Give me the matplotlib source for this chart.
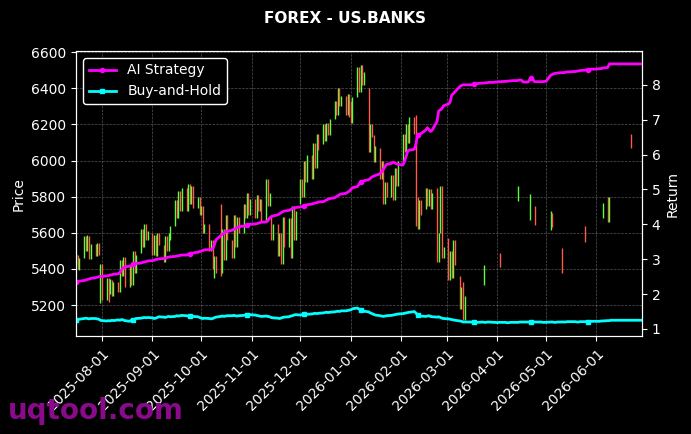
import numpy as np
import pandas as pd
import matplotlib
matplotlib.use("Agg")
import matplotlib.pyplot as plt
import matplotlib.dates as mdates

# ---------------- data ----------------
start_date = "2025-07-16"
end_date = "2026-06-29"

# dense candles: (open, close) per business day, Jul 16 2025 .. Mar 12 2026
candle_open = [
    5420, 5480, 5395,
    5460, 5580, 5500, 5585, 5455,
    5540, 5470, 5545, 5210, 5430,
    5230, 5350, 5260, 5340, 5250,
    5330, 5270, 5450, 5360, 5465,
    5300, 5420, 5310, 5500, 5380,
    5490, 5620, 5520, 5650, 5560,
    5600, 5480, 5590, 5470, 5600,
    5530, 5440, 5580, 5500, 5560,
    5640, 5780, 5680, 5830, 5720,
    5850, 5720, 5870, 5760, 5860,
    5740, 5800, 5700, 5750, 5600,
    5650, 5500, 5560, 5350, 5470,
    5760, 5380, 5620, 5450, 5700,
    5560, 5460, 5700, 5520, 5690,
    5600, 5760, 5680, 5820, 5700,
    5790, 5680, 5810, 5720, 5790,
    5660, 5900, 5750, 5700, 5560,
    5650, 5470, 5600, 5430, 5690,
    5520, 5680, 5460, 5750, 5560,
    5760, 5900, 5800, 6000, 5880,
    6030, 5900, 6100, 5960, 6150,
    6090, 6200, 6110, 6210, 6140,
    6230, 6330, 6250, 6400, 6300,
    6360, 6250, 6370, 6330, 6210,
    6350, 6520, 6380, 6530, 6420,
    6400, 6050, 6200, 6140, 5990,
    6070, 5900, 6000, 5760, 5880,
    5800, 5920, 5780, 5960, 5860,
    6000, 6150, 6050, 6200, 6100,
    6240, 6250, 5800, 5620, 5780,
    5730, 5850, 5750, 5840, 5730,
    5850, 5440, 5600, 5860, 5460,
    5570, 5340, 5500, 5350, 5560,
    5360, 5180, 5330, 5120,
]
candle_close = [
    5485, 5400, 5460,
    5580, 5500, 5590, 5455, 5540,
    5470, 5545, 5480, 5430, 5230,
    5350, 5215, 5345, 5250, 5330,
    5270, 5450, 5360, 5465, 5300,
    5420, 5310, 5500, 5380, 5480,
    5620, 5520, 5650, 5560, 5610,
    5480, 5590, 5470, 5600, 5530,
    5440, 5580, 5500, 5600, 5640,
    5780, 5680, 5830, 5720, 5850,
    5720, 5870, 5760, 5860, 5740,
    5800, 5700, 5750, 5600, 5650,
    5500, 5560, 5400, 5470, 5380,
    5360, 5620, 5450, 5700, 5560,
    5460, 5700, 5520, 5690, 5600,
    5760, 5680, 5820, 5700, 5790,
    5680, 5810, 5720, 5790, 5660,
    5900, 5750, 5820, 5560, 5650,
    5470, 5600, 5430, 5690, 5520,
    5680, 5460, 5750, 5560, 5720,
    5900, 5800, 6000, 5880, 6030,
    5900, 6100, 5960, 6150, 6060,
    6200, 6110, 6210, 6140, 6230,
    6330, 6250, 6400, 6300, 6360,
    6250, 6370, 6240, 6210, 6350,
    6520, 6380, 6530, 6420, 6490,
    6050, 6200, 6130, 5990, 6080,
    5900, 6000, 5760, 5880, 5800,
    5920, 5780, 5960, 5860, 6000,
    6150, 6050, 6200, 6100, 6240,
    6150, 5640, 5620, 5780, 5700,
    5850, 5750, 5840, 5730, 5820,
    5440, 5600, 5860, 5460, 5520,
    5340, 5500, 5350, 5560, 5420,
    5180, 5300, 5120, 5250,
]

# sparse candles later in the period
sparse_dates = ["2026-03-24", "2026-04-03", "2026-04-14", "2026-04-21", "2026-04-24",
                "2026-05-04", "2026-05-05", "2026-05-11", "2026-05-25",
                "2026-06-05", "2026-06-08", "2026-06-09", "2026-06-22"]
sparse_open = [5310, 5490, 5775, 5670, 5750, 5615, 5710, 5515, 5637, 5680, 5800, 5660, 6150]
sparse_close = [5420, 5410, 5858, 5815, 5645, 5720, 5630, 5380, 5550, 5765, 5660, 5800, 6070]

ai_strategy = [
    2.35, 2.36, 2.37,
    2.39, 2.40, 2.42, 2.43, 2.45,
    2.47, 2.48, 2.50, 2.50, 2.51,
    2.52, 2.53, 2.55, 2.55, 2.57,
    2.58, 2.62, 2.70, 2.75, 2.78,
    2.80, 2.82, 2.85, 2.86, 2.88,
    2.89, 2.91, 2.92, 2.93, 2.95,
    2.96, 2.97, 2.99, 3.00, 3.01,
    3.02, 3.03, 3.05, 3.06, 3.07,
    3.08, 3.09, 3.10, 3.11, 3.12,
    3.12, 3.14, 3.15, 3.17, 3.18,
    3.20, 3.22, 3.23, 3.25, 3.27,
    3.27, 3.28, 3.30, 3.40, 3.55,
    3.68, 3.72, 3.75, 3.78, 3.80,
    3.83, 3.86, 3.88, 3.90, 3.93,
    3.95, 3.96, 3.98, 3.99, 4.00,
    4.01, 4.02, 4.03, 4.05, 4.06,
    4.07, 4.10, 4.18, 4.22, 4.24,
    4.27, 4.30, 4.33, 4.36, 4.38,
    4.40, 4.42, 4.45, 4.47, 4.48,
    4.50, 4.51, 4.53, 4.55, 4.56,
    4.58, 4.60, 4.61, 4.62, 4.64,
    4.65, 4.67, 4.70, 4.72, 4.74,
    4.76, 4.79, 4.82, 4.85, 4.87,
    4.89, 4.92, 4.95, 5.00, 5.05,
    5.08, 5.15, 5.20, 5.22, 5.25,
    5.28, 5.32, 5.36, 5.38, 5.40,
    5.45, 5.50, 5.58, 5.65, 5.72,
    5.75, 5.78, 5.76, 5.74, 5.72,
    5.70, 5.80, 5.95, 6.10, 6.13,
    6.15, 6.30, 6.55, 6.57, 6.60,
    6.70, 6.77, 6.72, 6.66, 6.70,
    6.95, 7.25, 7.28, 7.32, 7.40,
    7.45, 7.50, 7.70, 7.75, 7.80,
    7.95, 7.98, 8.00, 8.00, 8.00,
    8.00, 8.01, 8.02, 8.03, 8.04,
    8.05, 8.05, 8.06, 8.06, 8.07,
    8.07, 8.08, 8.08, 8.09, 8.09,
    8.10, 8.10, 8.11, 8.11, 8.12,
    8.12, 8.13, 8.14, 8.13, 8.08,
    8.08, 8.15, 8.20, 8.15, 8.09,
    8.09, 8.09, 8.09, 8.10, 8.10,
    8.28, 8.30, 8.32, 8.33, 8.34,
    8.35, 8.35, 8.36, 8.37, 8.37,
    8.38, 8.38, 8.39, 8.40, 8.41,
    8.42, 8.43, 8.43, 8.44, 8.45,
    8.45, 8.46, 8.46, 8.47, 8.48,
    8.50, 8.60, 8.60, 8.60, 8.60,
    8.60, 8.60, 8.60, 8.60, 8.60,
    8.60, 8.60, 8.60, 8.60, 8.60,
    8.60,
]

buy_and_hold = [
    1.26, 1.27, 1.28,
    1.30, 1.31, 1.30, 1.29, 1.30,
    1.30, 1.29, 1.28, 1.25, 1.24,
    1.23, 1.24, 1.23, 1.25, 1.24,
    1.26, 1.25, 1.27, 1.26, 1.24,
    1.22, 1.25, 1.27, 1.28, 1.30,
    1.31, 1.32, 1.33, 1.32, 1.33,
    1.32, 1.30, 1.31, 1.33, 1.35,
    1.34, 1.33, 1.35, 1.36, 1.35,
    1.36, 1.38, 1.37, 1.38, 1.39,
    1.38, 1.37, 1.36, 1.35, 1.36,
    1.35, 1.33, 1.31, 1.30, 1.31,
    1.30, 1.29, 1.30, 1.32, 1.34,
    1.36, 1.37, 1.36, 1.37, 1.38,
    1.38, 1.39, 1.38, 1.37, 1.38,
    1.39, 1.40, 1.39, 1.40, 1.41,
    1.40, 1.39, 1.38, 1.37, 1.36,
    1.37, 1.36, 1.35, 1.33, 1.32,
    1.31, 1.30, 1.31, 1.33, 1.34,
    1.35, 1.37, 1.38, 1.40, 1.41,
    1.40, 1.41, 1.42, 1.43, 1.42,
    1.43, 1.44, 1.45, 1.44, 1.45,
    1.46, 1.47, 1.48, 1.47, 1.48,
    1.49, 1.50, 1.51, 1.50, 1.52,
    1.52, 1.53, 1.54, 1.55, 1.58,
    1.60, 1.57, 1.55, 1.53, 1.51,
    1.49, 1.46, 1.44, 1.42, 1.40,
    1.38, 1.37, 1.36, 1.37, 1.38,
    1.39, 1.40, 1.41, 1.42, 1.43,
    1.44, 1.45, 1.46, 1.47, 1.48,
    1.50, 1.46, 1.40, 1.38, 1.37,
    1.36, 1.37, 1.38, 1.36, 1.35,
    1.34, 1.35, 1.33, 1.31, 1.30,
    1.29, 1.28, 1.27, 1.26, 1.25,
    1.23, 1.22, 1.20, 1.20, 1.20,
    1.20, 1.19, 1.19, 1.19, 1.19,
    1.20, 1.19, 1.19, 1.20, 1.20,
    1.19, 1.19, 1.18, 1.19, 1.19,
    1.19, 1.18, 1.18, 1.19, 1.19,
    1.19, 1.19, 1.20, 1.20, 1.20,
    1.20, 1.19, 1.19, 1.20, 1.20,
    1.20, 1.20, 1.19, 1.19, 1.19,
    1.20, 1.20, 1.19, 1.19, 1.20,
    1.20, 1.20, 1.20, 1.21, 1.21,
    1.21, 1.21, 1.20, 1.20, 1.21,
    1.21, 1.21, 1.21, 1.22, 1.22,
    1.22, 1.22, 1.22, 1.23, 1.23,
    1.24, 1.24, 1.25, 1.25, 1.25,
    1.25, 1.25, 1.25, 1.25, 1.25,
    1.25, 1.25, 1.25, 1.25, 1.25,
    1.25,
]

price_ticks = [5200, 5400, 5600, 5800, 6000, 6200, 6400, 6600]
return_ticks = [1, 2, 3, 4, 5, 6, 7, 8]
date_ticks = ["2025-08-01", "2025-09-01", "2025-10-01", "2025-11-01", "2025-12-01",
              "2026-01-01", "2026-02-01", "2026-03-01", "2026-04-01", "2026-05-01",
              "2026-06-01"]

# ---------------- plot ----------------
dates = pd.bdate_range(start_date, end_date)
n = min(len(dates), len(ai_strategy), len(buy_and_hold))
line_dates = dates[:n]

c_dates = list(dates[:len(candle_open)]) + list(pd.to_datetime(sparse_dates))
c_open = np.array(candle_open + sparse_open, dtype=float)
c_close = np.array(candle_close + sparse_close, dtype=float)
up_col = "#5cff3a"
dn_col = "#ff5a4a"
colors = [up_col if c >= o else dn_col for o, c in zip(c_open, c_close)]

fig = plt.figure(figsize=(6.91, 4.34), dpi=100, facecolor="black")
ax = fig.add_axes([0.110, 0.2247, 0.819, 0.6578])
ax.set_facecolor("black")
ax.vlines(c_dates, np.minimum(c_open, c_close), np.maximum(c_open, c_close),
          colors=colors, linewidth=1.0)
ax.set_ylim(5026, 6607)
ax.set_yticks(price_ticks)
ax.set_xlim(line_dates[0], line_dates[-1])
ax.set_xticks(pd.to_datetime(date_ticks))
ax.xaxis.set_major_formatter(mdates.DateFormatter("%Y-%m-%d"))
plt.setp(ax.get_xticklabels(), rotation=45, ha="right", rotation_mode="anchor")
ax.grid(True, color="#777777", linestyle="--", linewidth=0.5, alpha=0.7)
ax.set_ylabel("Price", color="white", fontsize=10)
ax.tick_params(colors="white", labelsize=10)
for s in ax.spines.values():
    s.set_color("white")

ax2 = ax.twinx()
ax2.plot(line_dates, ai_strategy[:n], color="#ff00ff", linewidth=2,
         marker=".", markersize=6, markevery=25, label="AI Strategy")
ax2.plot(line_dates, buy_and_hold[:n], color="#00ffff", linewidth=2,
         marker="s", markersize=3.5, markevery=25, label="Buy-and-Hold")
ax2.set_ylim(0.785, 8.97)
ax2.set_yticks(return_ticks)
ax2.set_ylabel("Return", color="white", fontsize=10)
ax2.tick_params(colors="white", labelsize=10)
for s in ax2.spines.values():
    s.set_color("white")
leg = ax2.legend(loc="upper left", facecolor="black", edgecolor="white",
                 fontsize=10, framealpha=1.0)
for t in leg.get_texts():
    t.set_color("white")

fig.suptitle("FOREX - US.BANKS", color="white", fontsize=11, fontweight="bold", y=0.975)
fig.text(0.012, 0.035, "uqtool.com", color="#8b0a8b", fontsize=20, fontweight="bold")

fig.savefig("out.png", dpi=100, facecolor="black")
